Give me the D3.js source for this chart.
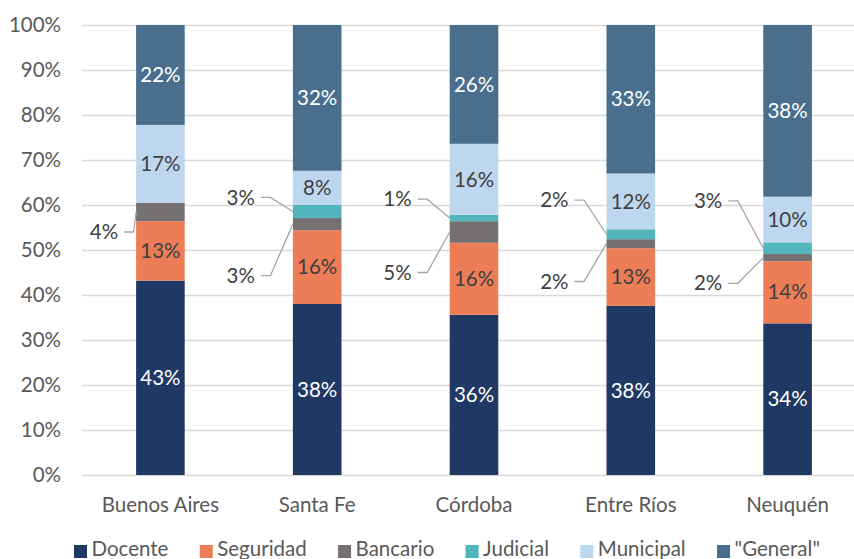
<!DOCTYPE html>
<html>
<head>
<meta charset="utf-8">
<script src="https://cdn.jsdelivr.net/npm/d3@7"></script>
<style>
  body { margin: 0; background: #fff; }
  svg text { font-family: Lato, "Open Sans", sans-serif; }
</style>
</head>
<body>
<svg id="chart" width="854" height="559"></svg>
<script>
// provinces and share of each sector (fraction of total)
const categories = ["Buenos Aires", "Santa Fe", "Córdoba", "Entre Ríos", "Neuquén"];
const seriesNames = ["Docente", "Seguridad", "Bancario", "Judicial", "Municipal", "\"General\""];
const docente   = [0.432, 0.380, 0.356, 0.376, 0.337];
const seguridad = [0.132, 0.164, 0.160, 0.128, 0.138];
const bancario  = [0.041, 0.027, 0.048, 0.020, 0.016];
const judicial  = [0.000, 0.029, 0.014, 0.022, 0.026];
const municipal = [0.173, 0.076, 0.158, 0.124, 0.1015];
const general   = [0.222, 0.324, 0.264, 0.330, 0.3815];
const yTicks = [0, 0.1, 0.2, 0.3, 0.4, 0.5, 0.6, 0.7, 0.8, 0.9, 1];

const colors = ["#203864", "#ED7D57", "#767171", "#52B5BC", "#BDD7EE", "#4A6F8E"];
const labelColors = ["#fff", "#404040", "#404040", "#404040", "#404040", "#fff"];
const FS = "20.5px";

// where the small-segment callouts sit (value space), per province
const calloutAt = {
  Bancario: [0.54, 0.443, 0.45, 0.43, 0.426],
  Judicial: [null, 0.617, 0.613, 0.611, 0.609]
};
const calloutGap = [18, 38, 38, 38, 41];

const allSeries = [docente, seguridad, bancario, judicial, municipal, general];
const rows = categories.map((c, i) => {
  let r = { cat: c };
  seriesNames.forEach((s, j) => r[s] = allSeries[j][i]);
  return r;
});

const svg = d3.select("#chart");
const plot = { left: 82, right: 866, top: 25, bottom: 475 };

const x = d3.scaleBand()
  .domain(categories)
  .range([plot.left, plot.right])
  .paddingInner(0.69)
  .paddingOuter(0.345);

const y = d3.scaleLinear()
  .domain([0, 1])
  .range([plot.bottom, plot.top]);

// gridlines + y labels
const yAxis = svg.append("g")
  .attr("transform", `translate(${plot.left},0)`)
  .call(d3.axisLeft(y).tickValues(yTicks).tickFormat(d3.format(".0%")).tickSize(-(854 - plot.left)).tickPadding(21));
yAxis.select(".domain").remove();
yAxis.selectAll("line").attr("stroke", "#D9D9D9").attr("stroke-width", 1.3);
yAxis.selectAll("text").attr("fill", "#595959").style("font-size", FS);

// x labels
svg.append("g").selectAll("text")
  .data(categories)
  .join("text")
  .attr("x", d => x(d) + x.bandwidth() / 2)
  .attr("y", 505)
  .attr("dy", "0.35em")
  .attr("text-anchor", "middle")
  .attr("fill", "#595959")
  .style("font-size", FS)
  .text(d => d);

const stacked = d3.stack().keys(seriesNames)(rows);

const layers = svg.append("g").selectAll("g")
  .data(stacked)
  .join("g")
  .attr("fill", (d, i) => colors[i]);

layers.selectAll("rect")
  .data(d => d)
  .join("rect")
  .attr("x", d => x(d.data.cat))
  .attr("width", x.bandwidth())
  .attr("y", d => y(d[1]))
  .attr("height", d => y(d[0]) - y(d[1]));

const fmt = v => Math.round(v * 100) + "%";

// segment labels, small ones pulled out with a leader line
stacked.forEach((layer, si) => {
  const name = seriesNames[si];
  layer.forEach((d, ci) => {
    const v = d[1] - d[0];
    if (v <= 0) return;
    const cx = x(d.data.cat) + x.bandwidth() / 2;
    const midY = y((d[0] + d[1]) / 2);
    if (calloutAt[name]) {
      const at = calloutAt[name][ci];
      if (at == null) return;
      const left = x(d.data.cat);
      const ly = y(at);
      const gap = calloutGap[ci];
      svg.append("polyline")
        .attr("points", [[left - gap + 6, ly], [left - gap + 15.5, ly], [left, midY]].map(p => p.join(",")).join(" "))
        .attr("fill", "none")
        .attr("stroke", "#A6A6A6")
        .attr("stroke-width", 1.3);
      svg.append("text")
        .attr("x", left - gap)
        .attr("y", ly)
        .attr("dy", "0.35em")
        .attr("text-anchor", "end")
        .attr("fill", "#404040")
        .style("font-size", FS)
        .text(fmt(v));
    } else {
      svg.append("text")
        .attr("x", cx)
        .attr("y", midY)
        .attr("dy", "0.35em")
        .attr("text-anchor", "middle")
        .attr("fill", labelColors[si])
        .style("font-size", FS)
        .text(fmt(v));
    }
  });
});

// legend, spread between x=74 and x=820
const legend = svg.append("g");
const items = seriesNames.map((s, i) => {
  const g = legend.append("g");
  g.append("rect").attr("x", 0).attr("y", 545).attr("width", 13).attr("height", 13).attr("fill", colors[i]);
  const t = g.append("text")
    .attr("x", 17.5)
    .attr("y", 556)
    .attr("fill", "#595959")
    .style("font-size", FS)
    .text(s);
  return { g, w: 17.5 + t.node().getComputedTextLength() };
});
const totalW = d3.sum(items, d => d.w);
const gap = (820 - 74 - totalW) / (items.length - 1);
let lx = 74;
items.forEach(it => {
  it.g.attr("transform", `translate(${lx},0)`);
  lx += it.w + gap;
});
</script>
</body>
</html>
